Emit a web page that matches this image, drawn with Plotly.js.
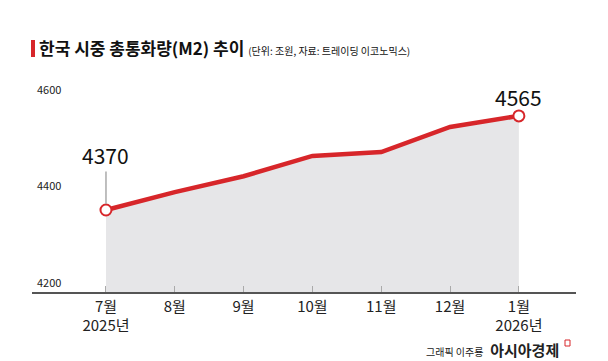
<!DOCTYPE html>
<html><head><meta charset="utf-8">
<script src="https://cdn.plot.ly/plotly-3.0.1.min.js"></script>
<style>body{margin:0;background:#fff}</style>
</head><body>
<div id="chart" style="width:608px;height:361px"></div>
<script>
const months = ['7월<br>2025년','8월','9월','10월','11월','12월','1월<br>2026년'];
const m2 = [4370, 4407, 4440, 4482, 4490, 4542, 4565];
const yTicks = [4200, 4400, 4600];
const firstLabel = '4370';
const lastLabel = '4565';
const titleText = '한국 시중 총통화량(M2) 추이';
const subtitleText = '(단위: 조원, 자료: 트레이딩 이코노믹스)';
const credit1 = '그래픽 이주룡';
const credit2 = '아시아경제';

const FONT = '"Liberation Sans Narrow", "Noto Sans CJK KR", sans-serif';
const RED = '#d7262a';
const n = m2.length;

const traces = [
  {x: months, y: m2, type: 'scatter', mode: 'none', fill: 'tozeroy',
   fillcolor: '#e6e6e8', hoverinfo: 'skip', showlegend: false},
  {x: months, y: m2, type: 'scatter', mode: 'lines',
   line: {color: RED, width: 4.5}, showlegend: false},
  {x: [months[0], months[n-1]], y: [m2[0], m2[n-1]], type: 'scatter', mode: 'markers',
   marker: {size: 11, color: '#fff', line: {color: RED, width: 2}}, showlegend: false}
];

const layout = {
  width: 608, height: 361,
  margin: {l: 32, r: 32, t: 80, b: 69},
  paper_bgcolor: '#fff', plot_bgcolor: '#fff',
  font: {family: FONT, color: '#222'},
  title: {
    text: '<b>' + titleText + '</b> <span style="font-size:10px;font-weight:normal">' + subtitleText + '</span>',
    font: {size: 17, family: FONT, color: '#111'},
    x: 39/608, xref: 'container', xanchor: 'left',
    y: 1 - 49/361, yref: 'container', yanchor: 'middle'
  },
  xaxis: {
    type: 'category', range: [-1.075, 6.83],
    showline: true, linecolor: '#555', linewidth: 1.5,
    ticks: 'inside', ticklen: 6, tickcolor: '#aaa', tickwidth: 1,
    showgrid: false, zeroline: false,
    tickfont: {size: 15, family: FONT, color: '#222'}
  },
  yaxis: {
    range: [4200, 4639.4], tickvals: yTicks, ticktext: yTicks.map(String),
    ticklabelposition: 'inside', ticklabelstandoff: 2, ticklabelshift: -9,
    showline: false, showgrid: false, zeroline: false, ticks: '',
    tickfont: {size: 11, family: FONT, color: '#222'}
  },
  shapes: [
    {type: 'rect', xref: 'paper', yref: 'paper',
     x0: -1/544, x1: 3/544, y0: (292-40)/212, y1: (292-57)/212,
     fillcolor: RED, line: {width: 0}},
    {type: 'rect', xref: 'paper', yref: 'paper',
     x0: (565-32)/544, x1: (570-32)/544, y0: (292-346)/212, y1: (292-340)/212,
     fillcolor: 'rgba(0,0,0,0)', line: {color: RED, width: 1}}
  ],
  annotations: [
    {x: months[0], y: m2[0], text: firstLabel, showarrow: true, arrowhead: 0,
     arrowcolor: '#aaa', arrowwidth: 1.5, ax: 0, ay: -55, standoff: 6,
     font: {size: 21, family: FONT, color: '#111'}},
    {x: months[n-1], y: m2[n-1], text: lastLabel, showarrow: false, yshift: 19,
     font: {size: 21, family: FONT, color: '#111'}},
    {xref: 'paper', yref: 'paper', x: (561-32)/544, y: (292-349)/212,
     xanchor: 'right', yanchor: 'middle', showarrow: false,
     text: '<span style="font-size:10px">' + credit1 + '</span>  <b>' + credit2 + '</b>',
     font: {size: 15, family: '"Noto Sans CJK KR", sans-serif', color: '#222'}}
  ]
};

Plotly.newPlot('chart', traces, layout, {displayModeBar: false, staticPlot: true});
</script>
</body></html>
